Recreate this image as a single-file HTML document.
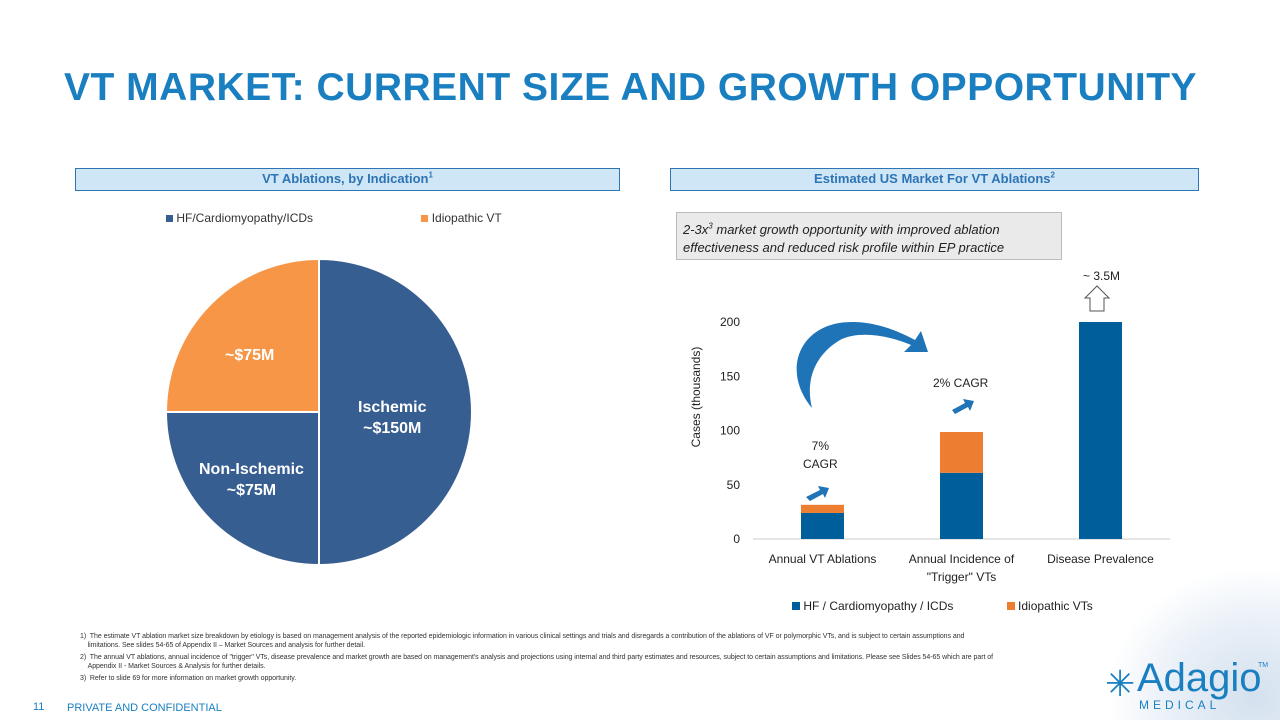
<!DOCTYPE html>
<html><head><meta charset="utf-8">
<style>
body{margin:0;width:1280px;height:720px;overflow:hidden;background:#fff;font-family:"Liberation Sans",sans-serif;position:relative}
.abs{position:absolute}
.hdr{position:absolute;height:23px;background:#cfe6f7;border:1px solid #2e75b6;color:#2e74b5;font-weight:bold;font-size:13px;text-align:center;line-height:20px;box-sizing:border-box}
.fn{position:absolute;left:80px;font-size:7px;color:#333;line-height:9px;width:980px;letter-spacing:-0.05px}
</style></head><body>
<div class="abs" style="left:1110px;top:570px;width:170px;height:150px;background:radial-gradient(ellipse at 85% 85%,#d4e1ee 0%,#e8eff7 40%,rgba(255,255,255,0) 72%)"></div>
<div class="abs" style="left:64px;top:66px;font-size:39px;font-weight:bold;color:#1a7fc1;letter-spacing:0.5px">VT MARKET: CURRENT SIZE AND GROWTH OPPORTUNITY</div>
<div class="hdr" style="left:75px;top:168px;width:545px">VT Ablations, by Indication<sup style="font-size:8px;line-height:0">1</sup></div>
<div class="hdr" style="left:670px;top:168px;width:529px">Estimated US Market For VT Ablations<sup style="font-size:8px;line-height:0">2</sup></div>

<div class="abs" style="left:166px;top:211px;font-size:12px;color:#333">
<span style="display:inline-block;width:7px;height:7px;background:#375e91"></span> HF/Cardiomyopathy/ICDs
<span style="display:inline-block;width:7px;height:7px;background:#f79646;margin-left:105px"></span> Idiopathic VT</div>

<svg class="abs" style="left:0;top:0" width="1280" height="720">
<g id="pie"></g>
</svg>
<div class="abs" style="left:225px;top:347px;color:#fff;font-weight:bold;font-size:16px">~$75M</div>
<div class="abs" style="left:358px;top:397px;color:#fff;font-weight:bold;font-size:16px;text-align:center;line-height:21px">Ischemic<br>~$150M</div>
<div class="abs" style="left:199px;top:459px;color:#fff;font-weight:bold;font-size:16px;text-align:center;line-height:21px">Non-Ischemic<br>~$75M</div>

<div class="abs" style="left:676px;top:212px;width:386px;height:48px;background:#eaeaea;border:1px solid #bbb;box-sizing:border-box;padding:8px 6px;font-size:13px;font-style:italic;color:#222;line-height:18px">2-3x<sup style="font-size:8px;line-height:0">3</sup> market growth opportunity with improved ablation effectiveness and reduced risk profile within EP practice</div>

<svg class="abs" style="left:0;top:0" width="1280" height="720">
<g id="bars"></g>
<path d="M812,408 C780,370 800,320 855,322 C880,323 900,332 915,340 L921,331 L928,352 L904,352 L911,345 C890,336 860,330 840,340 C815,355 805,380 812,408 Z" fill="#1f74b8"/>
<path d="M806,497 L820,490 L818,486 L829,488 L825,498 L823,494 L810,501 Z" fill="#1f74b8"/>
<path d="M952,410 L965,403 L963,399 L974,401 L970,411 L968,407 L955,414 Z" fill="#1f74b8"/>
<path d="M1090,311 L1090,298 L1085,298 L1097,286 L1109,298 L1104,298 L1104,311 Z" fill="#fff" stroke="#555" stroke-width="1"/>
</svg>
<div class="abs" style="left:1083px;top:269px;font-size:12px;color:#222">~ 3.5M</div>
<div class="abs" style="left:803px;top:437px;font-size:12px;color:#222;text-align:center;line-height:18px">7%<br>CAGR</div>
<div class="abs" style="left:933px;top:376px;font-size:12px;color:#222">2% CAGR</div>
<div class="abs" style="left:641px;top:390px;font-size:12px;color:#222;transform:rotate(-90deg);transform-origin:center;width:110px;text-align:center">Cases (thousands)</div>
<div class="abs" style="left:792px;top:599px;font-size:12px;color:#222">
<span style="display:inline-block;width:8px;height:8px;background:#005f9b"></span> HF / Cardiomyopathy / ICDs
<span style="display:inline-block;width:8px;height:8px;background:#ed7d31;margin-left:50px"></span> Idiopathic VTs</div>

<div class="fn" style="top:632px">1)&nbsp; The estimate VT ablation market size breakdown by etiology is based on management analysis of the reported epidemiologic information in various clinical settings and trials and disregards a contribution of the ablations of VF or polymorphic VTs, and is subject to certain assumptions and<br>&nbsp;&nbsp;&nbsp;&nbsp;limitations. See slides 54-65 of Appendix II – Market Sources and analysis for further detail.</div>
<div class="fn" style="top:653px">2)&nbsp; The annual VT ablations, annual incidence of "trigger" VTs, disease prevalence and market growth are based on management's analysis and projections using internal and third party estimates and resources, subject to certain assumptions and limitations. Please see Slides 54-65 which are part of<br>&nbsp;&nbsp;&nbsp;&nbsp;Appendix II - Market Sources &amp; Analysis for further details.</div>
<div class="fn" style="top:674px">3)&nbsp; Refer to slide 69 for more information on market growth opportunity.</div>
<div class="abs" style="left:33px;top:701px;font-size:11px;color:#1a7fc1">11</div>
<div class="abs" style="left:67px;top:702px;font-size:11px;color:#1a7fc1">PRIVATE AND CONFIDENTIAL</div>
<div class="abs" style="left:1105px;top:660px;color:#1a7fc1">
<span style="position:absolute;left:0;top:6px;font-size:36px;line-height:36px">✳</span>
<span style="position:absolute;left:32px;top:-4px;font-size:40px;line-height:44px">Adagio</span>
<span style="position:absolute;left:153px;top:2px;font-size:7px">TM</span>
<span style="position:absolute;left:34px;top:38px;font-size:12px;letter-spacing:4px">MEDICAL</span></div>

<script>
// Pie data
const pieLabels=["Ischemic","Non-Ischemic","Idiopathic"];
const pieValues=[150,75,75];
const pieColors=["#375e91","#375e91","#f79646"];
// Bar data
const categories=["Annual VT Ablations","Annual Incidence of\n\"Trigger\" VTs","Disease Prevalence"];
const hfValues=[24,61,200];
const idioValues=[7.5,37.6,0];
const yTicks=[0,50,100,150,200];

const NS="http://www.w3.org/2000/svg";
function mk(t,a,p){const e=document.createElementNS(NS,t);for(const k in a)e.setAttribute(k,a[k]);p.appendChild(e);return e;}

const pg=document.getElementById('pie');
const cx=319,cy=412,r=153;
const tot=pieValues.reduce((a,b)=>a+b,0);
let ang=-Math.PI/2;
pieValues.forEach((v,i)=>{
 const a2=ang+v/tot*2*Math.PI;
 const x1=cx+r*Math.cos(ang),y1=cy+r*Math.sin(ang),x2=cx+r*Math.cos(a2),y2=cy+r*Math.sin(a2);
 const p=mk('path',{d:`M${cx},${cy} L${x1},${y1} A${r},${r} 0 ${a2-ang>Math.PI?1:0} 1 ${x2},${y2} Z`,fill:pieColors[i],stroke:'#fff','stroke-width':2},pg);
 
 
 ang=a2;
});
mk('line',{x1:cx,y1:cy,x2:cx,y2:cy+r,stroke:'#fff','stroke-width':1,'stroke-dasharray':'3,2'},pg);

const bg=document.getElementById('bars');
const y0=539,y200=322;
const y=v=>y0-(v/200)*(y0-y200);
const left=753,right=1170,bw=43;
const band=(right-left)/categories.length;
const xc=i=>left+band*(i+0.5);
mk('line',{x1:left,y1:y0,x2:right,y2:y0,stroke:'#ccc'},bg);
yTicks.forEach(t=>{
 const tx=mk('text',{x:740,y:y(t)+4,'text-anchor':'end','font-size':12,fill:'#222','font-family':'Liberation Sans'},bg);
 tx.textContent=t;
 
 
});
categories.forEach((c,i)=>{
 const x=xc(i)-bw/2;
 const b1=mk('rect',{x:x,y:y(hfValues[i]),width:bw,height:y0-y(hfValues[i]),fill:'#005f9b'},bg);
 
 
 if(idioValues[i]>0){
  const top=hfValues[i]+idioValues[i];
  const b2=mk('rect',{x:x,y:y(top),width:bw,height:y(hfValues[i])-y(top),fill:'#ed7d31'},bg);
  
  
 }
 c.split('\n').forEach((ln,j)=>{
  const t=mk('text',{x:xc(i),y:563+j*18,'text-anchor':'middle','font-size':12,fill:'#222','font-family':'Liberation Sans'},bg);
  t.textContent=ln;
  
  
 });
});
</script>
</body></html>
